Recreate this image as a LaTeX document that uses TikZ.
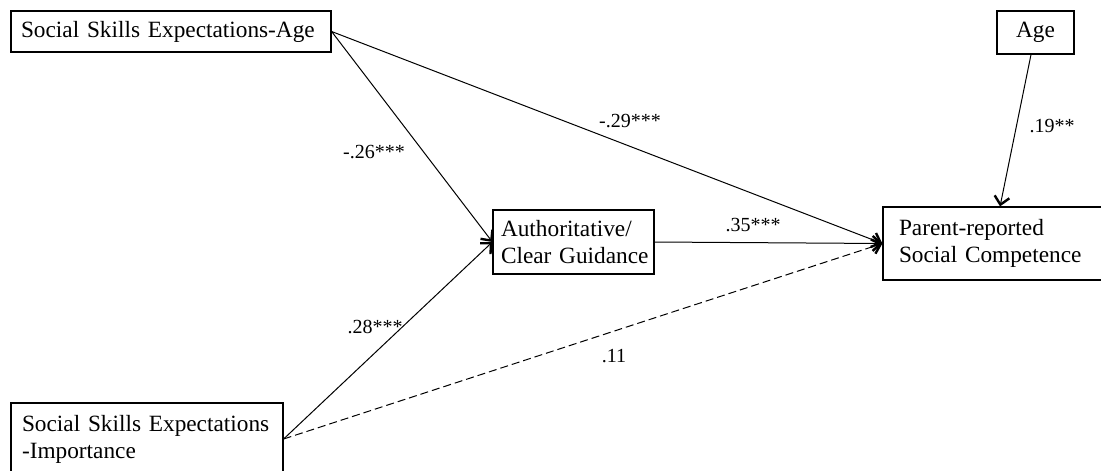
\documentclass[tikz,border=0pt]{standalone}
\usepackage{fontspec}
\setmainfont{Liberation Serif}
\usepackage{tikz}
\usetikzlibrary{arrows.meta}
\usetikzlibrary{positioning}

\begin{document}
\begin{tikzpicture}[%
x=1pt,
y=-1pt,
box/.style={draw, line width=1.2pt, align=left, inner ysep=0pt, font=\fontsize{23.3}{27}\selectfont},
lbl/.style={inner sep=0pt, font=\fontsize{20}{22}\selectfont},
path/.style={line width=1pt, -{Straight Barb[length=8pt,width=15pt,line width=2.4pt]}},
]

\useasboundingbox (0,0) rectangle (1101,471);

%Kaesten
\node[box, minimum width=320pt, minimum height=41pt, inner xsep=3pt, text width=300pt] (ssea) at (171,31.5) {\mbox{Social Skills Expectations-Age}};
\node[box, minimum width=77pt, minimum height=43pt, align=center] (age) at (1035.5,32.5) {Age};
\node[box, minimum width=161pt, minimum height=64pt, inner xsep=8pt, text width=145pt] (auth) at (573.5,242) {\mbox{Authoritative/}\\\mbox{Clear Guidance}};
\node[box, minimum width=219pt, minimum height=73pt, inner xsep=16pt, text width=187pt] (parent) at (992.5,243.5) {\mbox{Parent-reported}\\\mbox{Social Competence}};
\node[box, minimum width=272pt, minimum height=72pt, inner xsep=11pt, text width=250pt] (ssei) at (147,439) {\mbox{Social Skills Expectations}\\\mbox{-Importance}};

%Pfeile
\draw[path] (ssea.east) -- (auth.west);
\draw[path] (ssea.east) -- (parent.west);
\draw[path] (ssei.east) -- (auth.west);
\draw[path, dash pattern=on 8pt off 4pt] (ssei.east) -- (parent.west);
\draw[path] (auth.east) -- (parent.west);
\draw[path] (age) -- (parent);

%Koeffizienten
\node[lbl] (l26) at (374,152) {-.26***};
\node[lbl] (l29) at (630,121) {-.29***};
\node[lbl] (l19) at (1052,126) {.19**};
\node[lbl] (l35) at (753,225) {.35***};
\node[lbl] (l28) at (375,327) {.28***};
\node[lbl] (l11) at (614,356) {.11};

\end{tikzpicture}
\end{document}
